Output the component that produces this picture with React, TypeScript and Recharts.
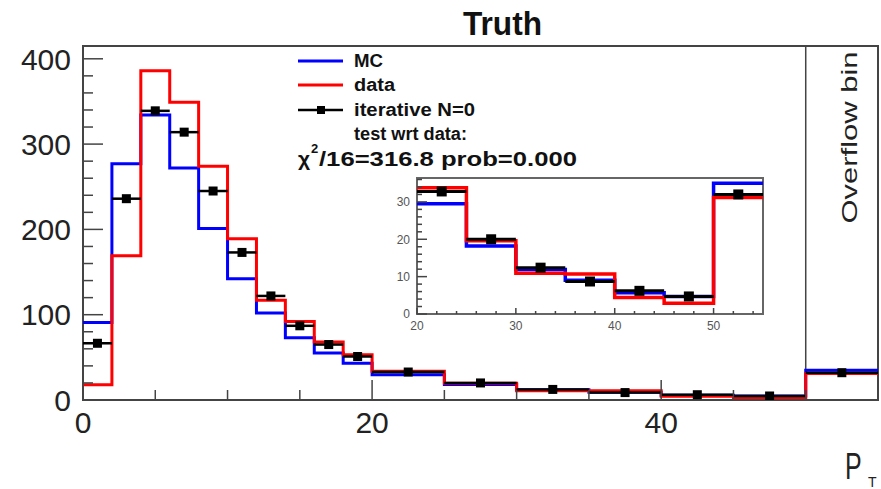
import React from 'react'
import { ComposedChart, Line, Scatter, ErrorBar, XAxis, YAxis, ReferenceArea, ReferenceLine } from 'recharts'

// bin edges (last bin 50-55 is the overflow bin)
const binEdges = [0, 2, 4, 6, 8, 10, 12, 14, 16, 18, 20, 25, 30, 35, 40, 45, 50, 55]
const mcValues = [91, 277, 334, 272, 201, 142, 102, 73, 55, 43, 29.5, 18.2, 11.9, 9.0, 5.7, 4.7, 35.0]
const dataValues = [18, 169, 386, 349, 274, 189, 117, 92, 68, 53, 33.8, 19.6, 10.9, 10.7, 4.4, 2.9, 31.2]
const iterValues = [66.5, 236, 339, 314, 245, 173, 122, 87, 65, 51, 32.8, 20.0, 12.4, 8.7, 6.2, 4.7, 32.0]

const mainYLabels = [0, 100, 200, 300, 400]
const mainXLabels = [0, 20, 40]
const insetYLabels = [0, 10, 20, 30]
const insetXLabels = [20, 30, 40, 50]

// legend rows: label and measured text width
const legendItems = ['MC', 'data', 'iterative N=0', 'test wrt data:']
const legendWidths = [29, 41, 121, 113]

const FONT = '"Liberation Sans", Arial, Helvetica, sans-serif'
const BLUE = '#0000ff'
const RED = '#ff0000'
const FRAME = '#444'

const range = (from: number, to: number, step: number) => {
  const out: number[] = []
  for (let v = from; v <= to + 1e-9; v += step) out.push(v)
  return out
}

// step rows: one row per edge, last edge repeats the last bin value
const last = mcValues.length - 1
const stepRows = binEdges.map((edge, i) => ({
  x: edge,
  mc: mcValues[Math.min(i, last)],
  data: dataValues[Math.min(i, last)],
}))

const iterPoints = iterValues.map((v, i) => ({
  x: (binEdges[i] + binEdges[i + 1]) / 2,
  y: v,
  ex: (binEdges[i + 1] - binEdges[i]) / 2,
}))

const insetRows = stepRows.filter((r) => r.x >= 20)
const insetPoints = iterPoints.filter((p) => p.x > 20)

const Square = (size: number) => (props: any) => {
  const { cx, cy } = props
  if (cx == null || cy == null) return <g />
  return <rect x={cx - size / 2} y={cy - size / 2} width={size} height={size} fill="#000" />
}

const makeYTick = (labels: number[], major: number, minor: number, fontSize: number, color: string, gap: number) =>
  (props: any) => {
    const { x, y, payload } = props
    const isMajor = labels.includes(payload.value)
    return (
      <g>
        <line x1={x} x2={x + (isMajor ? major : minor)} y1={y} y2={y} stroke={FRAME} strokeWidth={1.5} />
        {isMajor && (
          <text x={x - gap} y={y + fontSize * 0.36} textAnchor="end" fontSize={fontSize} fill={color} fontFamily={FONT}>
            {payload.value}
          </text>
        )}
      </g>
    )
  }

const makeXTick = (labels: number[], major: number, minor: number, fontSize: number, color: string, gap: number) =>
  (props: any) => {
    const { x, y, payload } = props
    const isMajor = labels.includes(payload.value)
    return (
      <g>
        <line x1={x} x2={x} y1={y} y2={y - (isMajor ? major : minor)} stroke={FRAME} strokeWidth={1.5} />
        {isMajor && (
          <text x={x} y={y + gap} textAnchor="middle" fontSize={fontSize} fill={color} fontFamily={FONT}>
            {payload.value}
          </text>
        )}
      </g>
    )
  }

export default function App() {
  return (
    <div style={{ position: 'absolute', left: 0, top: 0, width: 881, height: 489, background: '#fff', fontFamily: FONT }}>
      {/* main histogram */}
      <div style={{ position: 'absolute', left: 0, top: 0 }}>
        <ComposedChart width={881} height={489} data={stepRows} margin={{ top: 46, left: 82, right: 3, bottom: 88 }}>
          <XAxis
            dataKey="x"
            type="number"
            domain={[0, 55]}
            allowDataOverflow
            ticks={range(0, 50, 5)}
            interval={0}
            height={1}
            tickSize={0}
            tickMargin={0}
            axisLine={false}
            tickLine={false}
            tick={makeXTick(mainXLabels, 20, 10, 30, '#222', 33)}
          />
          <YAxis
            type="number"
            domain={[0, 415]}
            allowDataOverflow
            ticks={range(0, 400, 20)}
            interval={0}
            width={1}
            tickSize={0}
            tickMargin={0}
            axisLine={false}
            tickLine={false}
            tick={makeYTick(mainYLabels, 20, 10, 30, '#222', 12)}
          />
          <ReferenceArea x1={0} x2={55} y1={0} y2={415} fill="none" stroke={FRAME} strokeWidth={2} />
          <ReferenceLine x={50} stroke={FRAME} strokeWidth={1.5} />
          <Line type="stepAfter" dataKey="mc" stroke={BLUE} strokeWidth={3} dot={false} activeDot={false} isAnimationActive={false} />
          <Line type="stepAfter" dataKey="data" stroke={RED} strokeWidth={3} dot={false} activeDot={false} isAnimationActive={false} />
          <Scatter data={iterPoints} dataKey="y" shape={Square(9)} isAnimationActive={false}>
            <ErrorBar dataKey="ex" direction="x" width={0} stroke="#000" strokeWidth={2.5} isAnimationActive={false} />
          </Scatter>
        </ComposedChart>
      </div>

      {/* inset zoom 20-55 */}
      <div style={{ position: 'absolute', left: 0, top: 0 }}>
        <ComposedChart width={881} height={489} data={insetRows} margin={{ top: 178, left: 416, right: 118, bottom: 174 }}>
          <XAxis
            dataKey="x"
            type="number"
            domain={[20, 55]}
            allowDataOverflow
            ticks={range(20, 54, 2)}
            interval={0}
            height={1}
            tickSize={0}
            tickMargin={0}
            axisLine={false}
            tickLine={false}
            tick={makeXTick(insetXLabels, 6, 3, 12, '#555', 16)}
          />
          <YAxis
            type="number"
            domain={[0, 36.4]}
            allowDataOverflow
            ticks={range(0, 36, 2)}
            interval={0}
            width={1}
            tickSize={0}
            tickMargin={0}
            axisLine={false}
            tickLine={false}
            tick={makeYTick(insetYLabels, 10, 5, 12, '#555', 7)}
          />
          <ReferenceArea x1={20} x2={55} y1={0} y2={36.4} fill="#fff" fillOpacity={1} stroke="#666" strokeWidth={2} />
          <Line type="stepAfter" dataKey="mc" stroke={BLUE} strokeWidth={3.5} dot={false} activeDot={false} isAnimationActive={false} />
          <Line type="stepAfter" dataKey="data" stroke={RED} strokeWidth={3.5} dot={false} activeDot={false} isAnimationActive={false} />
          <Scatter data={insetPoints} dataKey="y" shape={Square(10)} isAnimationActive={false}>
            <ErrorBar dataKey="ex" direction="x" width={0} stroke="#000" strokeWidth={3} isAnimationActive={false} />
          </Scatter>
        </ComposedChart>
      </div>

      {/* title, legend, labels */}
      <svg width={881} height={489} style={{ position: 'absolute', left: 0, top: 0, pointerEvents: 'none' }} fontFamily={FONT}>
        <text x={502.5} y={35} textAnchor="middle" fontSize={34} fontWeight="bold" fill="#111" textLength={79} lengthAdjust="spacingAndGlyphs">
          Truth
        </text>

        <line x1={298} x2={343} y1={61} y2={61} stroke={BLUE} strokeWidth={3} />
        <line x1={298} x2={343} y1={85} y2={85} stroke={RED} strokeWidth={3} />
        <line x1={298} x2={343} y1={110} y2={110} stroke="#000" strokeWidth={2.5} />
        <rect x={317} y={106} width={8} height={8} fill="#000" />
        {legendItems.map((t, i) => (
          <text
            key={t}
            x={354}
            y={67 + i * 24.3}
            fontSize={18}
            fontWeight="bold"
            fill="#111"
            textLength={legendWidths[i]}
            lengthAdjust="spacingAndGlyphs"
          >
            {t}
          </text>
        ))}
        <text x={298} y={166} fontSize={21} fontWeight="bold" fill="#111">
          χ
        </text>
        <text x={311} y={153} fontSize={13} fontWeight="bold" fill="#111">
          2
        </text>
        <text x={319} y={166} fontSize={20} fontWeight="bold" fill="#111" textLength={258} lengthAdjust="spacingAndGlyphs">
          /16=316.8 prob=0.000
        </text>

        <text
          transform="translate(857,137.5) rotate(-90)"
          textAnchor="middle"
          fontSize={22}
          fill="#222"
          textLength={172}
          lengthAdjust="spacingAndGlyphs"
        >
          Overflow bin
        </text>

        <text transform="translate(845,479) scale(1,1.45)" fontSize={25} fill="#222">
          P
        </text>
        <text x={868} y={487} fontSize={14} fill="#222">
          T
        </text>
      </svg>
    </div>
  )
}
